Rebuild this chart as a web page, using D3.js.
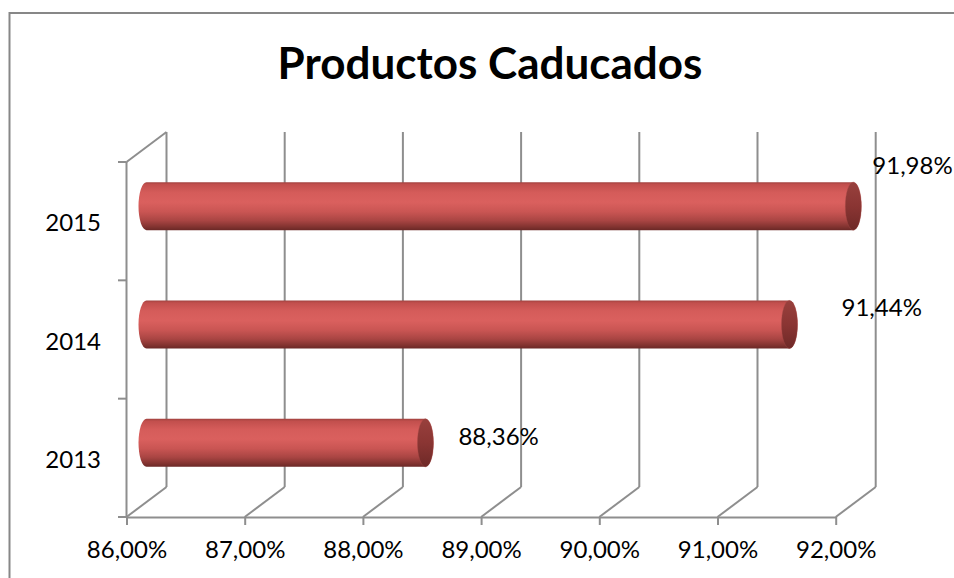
<!DOCTYPE html>
<html>
<head>
<meta charset="utf-8">
<script src="https://cdn.jsdelivr.net/npm/d3@7"></script>
<style>
  html, body { margin: 0; padding: 0; background: #fff; }
  svg { display: block; }
  text { font-family: Lato, "Open Sans", sans-serif; fill: #000; }
</style>
</head>
<body>
<svg id="chart" width="954" height="578"></svg>
<script>
// Chart content
const title = "Productos Caducados";
const years = ["2015", "2014", "2013"];
const values = [0.9198, 0.9144, 0.8836];
const xTicks = [0.86, 0.87, 0.88, 0.89, 0.90, 0.91, 0.92];

// Layout of the 3-D box (front face and depth offset of the back wall)
const front = { left: 126.5, right: 835.7, top: 162, bottom: 517 };
const depth = { dx: 40, dy: -30 };
const barRx = 8;
const fontSize = 24;
// Small nudges for the value labels (baseline relative to the bar's end and axis)
const labelNudge = [{ dx: 19, dy: -32 }, { dx: 52, dy: -8.5 }, { dx: 33, dy: 2 }];

const locale = d3.formatLocale({ decimal: ",", thousands: ".", grouping: [3], currency: ["", " €"] });
const pct = locale.format(".2%");

const svg = d3.select("#chart");
const gridColor = "#8e8e8e";

// Outer chart frame
svg.append("rect")
  .attr("x", 9.5).attr("y", 13).attr("width", 1000).attr("height", 600)
  .attr("fill", "#fff").attr("stroke", "#878787").attr("stroke-width", 2);

// Title
svg.append("text")
  .attr("x", 490).attr("y", 79)
  .attr("text-anchor", "middle")
  .attr("font-size", 44).attr("font-weight", 700)
  .text(title);

const x = d3.scaleLinear().domain([xTicks[0], xTicks[xTicks.length - 1]]).range([front.left, front.right]);
const y = d3.scaleBand().domain(years).range([front.top, front.bottom])
  .paddingInner(0.594).paddingOuter(0.297);

// Gradients for the cylinders
const defs = svg.append("defs");
const body = defs.append("linearGradient").attr("id", "cyl").attr("x1", 0).attr("y1", 0).attr("x2", 0).attr("y2", 1);
[[0, "#a1423f"], [0.05, "#c24f4d"], [0.22, "#d55c5a"], [0.42, "#da605e"], [0.62, "#c95553"],
 [0.8, "#a94543"], [0.93, "#823330"], [1, "#6a2826"]]
  .forEach(([o, c]) => body.append("stop").attr("offset", o).attr("stop-color", c));
const cap = defs.append("linearGradient").attr("id", "cap").attr("x1", 0).attr("y1", 0).attr("x2", 0).attr("y2", 1);
[[0, "#98403d"], [0.5, "#8a3533"], [1, "#6e2927"]]
  .forEach(([o, c]) => cap.append("stop").attr("offset", o).attr("stop-color", c));

// Walls and floor gridlines
const grid = svg.append("g").attr("stroke", gridColor).attr("stroke-width", 2).attr("fill", "none");
xTicks.forEach(t => {
  const fx = x(t);
  // back wall vertical
  grid.append("line")
    .attr("x1", fx + depth.dx).attr("y1", front.top + depth.dy)
    .attr("x2", fx + depth.dx).attr("y2", front.bottom + depth.dy);
  // floor depth line
  grid.append("line")
    .attr("x1", fx).attr("y1", front.bottom)
    .attr("x2", fx + depth.dx).attr("y2", front.bottom + depth.dy);
});
// left wall: front edge and top depth edge
grid.append("line").attr("x1", front.left).attr("y1", front.top).attr("x2", front.left).attr("y2", front.bottom);
grid.append("line").attr("x1", front.left).attr("y1", front.top)
  .attr("x2", front.left + depth.dx).attr("y2", front.top + depth.dy);
// category boundary ticks on the left wall
d3.range(years.length + 1).forEach(i => {
  const yy = front.top + i * y.step();
  grid.append("line").attr("x1", front.left - 8.5).attr("y1", yy).attr("x2", front.left).attr("y2", yy);
});

// Bottom value axis
const xAxis = svg.append("g")
  .attr("transform", `translate(0,${front.bottom})`)
  .call(d3.axisBottom(x).tickValues(xTicks).tickFormat(pct).tickSize(8).tickSizeOuter(0));
xAxis.select(".domain").attr("stroke", gridColor).attr("stroke-width", 2);
xAxis.selectAll(".tick line").attr("stroke", gridColor).attr("stroke-width", 2);
xAxis.selectAll(".tick text").attr("y", 41).attr("dy", 0)
  .attr("font-size", fontSize).attr("font-family", "Lato, sans-serif").attr("fill", "#000");

// Left category axis
const yAxis = svg.append("g")
  .attr("transform", `translate(${front.left},0)`)
  .call(d3.axisLeft(y).tickSize(0).tickPadding(25.5));
yAxis.select(".domain").remove();
yAxis.selectAll(".tick text").attr("dy", "0.42em")
  .attr("font-size", fontSize).attr("font-family", "Lato, sans-serif").attr("fill", "#000");

// Cylinders (sitting halfway into the depth)
const rows = years.map((yr, i) => ({ yr, v: values[i], i }));
const bars = svg.append("g").selectAll("g").data(rows).join("g");
bars.each(function (d) {
  const g = d3.select(this);
  const x0 = x(xTicks[0]) + depth.dx / 2;
  const x1 = x(d.v) + depth.dx / 2;
  const top = y(d.yr) + depth.dy / 2;
  const h = y.bandwidth();
  const ry = h / 2;
  g.append("path")
    .attr("d", `M${x0},${top} L${x1},${top} A${barRx},${ry} 0 0 1 ${x1},${top + h} L${x0},${top + h} A${barRx},${ry} 0 0 1 ${x0},${top} Z`)
    .attr("fill", "url(#cyl)");
  g.append("ellipse")
    .attr("cx", x1).attr("cy", top + ry).attr("rx", barRx).attr("ry", ry)
    .attr("fill", "url(#cap)")
    .attr("stroke", "#a34a47").attr("stroke-width", 0.6).attr("stroke-opacity", 0.6);
  g.append("text")
    .attr("x", x1 + labelNudge[d.i].dx)
    .attr("y", top + ry + labelNudge[d.i].dy)
    .attr("font-size", fontSize)
    .text(pct(d.v));
});
</script>
</body>
</html>
